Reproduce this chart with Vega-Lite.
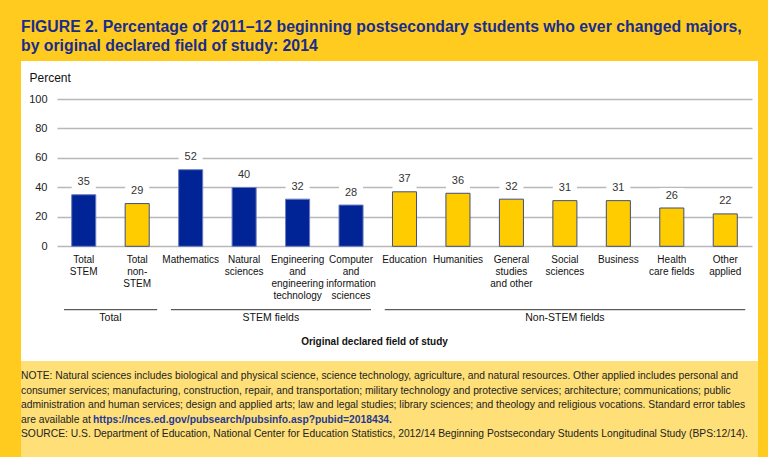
{
  "$schema": "https://vega.github.io/schema/vega-lite/v6.json",
  "background": "#FFCB1F",
  "padding": {"left": 21, "top": 19, "right": 10, "bottom": 0},
  "autosize": {"type": "pad"},
  "spacing": 0,
  "title": {
    "text": ["FIGURE 2. Percentage of 2011–12 beginning postsecondary students who ever changed majors,", "by original declared field of study: 2014"],
    "anchor": "start",
    "frame": "group",
    "font": "Liberation Sans",
    "fontSize": 15.8,
    "fontWeight": "bold",
    "color": "#1a2c8c",
    "lineHeight": 19,
    "offset": 6
  },
  "config": {"view": {"stroke": null}, "font": "Liberation Sans"},
  "datasets": {
    "bars": [
      {"field": "Total\nSTEM", "value": 35, "type": "STEM"},
      {"field": "Total\nnon-\nSTEM", "value": 29, "type": "Non-STEM"},
      {"field": "Mathematics", "value": 52, "type": "STEM"},
      {"field": "Natural\nsciences", "value": 40, "type": "STEM"},
      {"field": "Engineering\nand\nengineering\ntechnology", "value": 32, "type": "STEM"},
      {"field": "Computer\nand\ninformation\nsciences", "value": 28, "type": "STEM"},
      {"field": "Education", "value": 37, "type": "Non-STEM"},
      {"field": "Humanities", "value": 36, "type": "Non-STEM"},
      {"field": "General\nstudies\nand other", "value": 32, "type": "Non-STEM"},
      {"field": "Social\nsciences", "value": 31, "type": "Non-STEM"},
      {"field": "Business", "value": 31, "type": "Non-STEM"},
      {"field": "Health\ncare fields", "value": 26, "type": "Non-STEM"},
      {"field": "Other\napplied", "value": 22, "type": "Non-STEM"}
    ],
    "spans": [
      {"label": "Total", "first": "Total\nSTEM", "last": "Total\nnon-\nSTEM"},
      {"label": "STEM fields", "first": "Mathematics", "last": "Computer\nand\ninformation\nsciences"},
      {"label": "Non-STEM fields", "first": "Education", "last": "Other\napplied"}
    ],
    "notes": [
      {"line": 1, "kind": "plain", "text": "NOTE: Natural sciences includes biological and physical science, science technology, agriculture, and natural resources. Other applied includes personal and"},
      {"line": 2, "kind": "plain", "text": "consumer services; manufacturing, construction, repair, and transportation; military technology and protective services; architecture; communications; public"},
      {"line": 3, "kind": "plain", "text": "administration and human services; design and applied arts; law and legal studies; library sciences; and theology and religious vocations. Standard error tables"},
      {"line": 4, "kind": "plain", "text": "are available at"},
      {"line": 4, "kind": "link", "text": "https://nces.ed.gov/pubsearch/pubsinfo.asp?pubid=2018434."},
      {"line": 5, "kind": "plain", "text": "SOURCE: U.S. Department of Education, National Center for Education Statistics, 2012/14 Beginning Postsecondary Students Longitudinal Study (BPS:12/14)."}
    ]
  },
  "vconcat": [
    {
      "width": 737,
      "height": 300,
      "view": {"fill": "white", "stroke": null},
      "encoding": {
        "x": {
          "field": "field",
          "type": "nominal",
          "sort": null,
          "title": "Original declared field of study",
          "scale": {
            "domain": ["Total\nSTEM", "Total\nnon-\nSTEM", "Mathematics", "Natural\nsciences", "Engineering\nand\nengineering\ntechnology", "Computer\nand\ninformation\nsciences", "Education", "Humanities", "General\nstudies\nand other", "Social\nsciences", "Business", "Health\ncare fields", "Other\napplied"],
            "range": [36, 731],
            "paddingInner": 0.55,
            "paddingOuter": 0.275
          },
          "axis": {
            "orient": "bottom",
            "offset": -114.7,
            "domain": false,
            "ticks": false,
            "grid": false,
            "labelAngle": 0,
            "labelExpr": "split(datum.label, '\\n')",
            "labelFont": "Liberation Sans",
            "labelFontSize": 10,
            "labelLineHeight": 12,
            "labelColor": "#111111",
            "labelPadding": 8,
            "labelBaseline": "top",
            "labelLimit": 200,
            "labelOverlap": false,
            "titleFont": "Liberation Sans",
            "titleFontSize": 10,
            "titleFontWeight": "bold",
            "titleColor": "#111111",
            "titleX": 353,
            "titleY": 97.7,
            "titleAlign": "center",
            "titleBaseline": "alphabetic"
          }
        }
      },
      "layer": [
        {
          "data": {"name": "bars"},
          "mark": {"type": "bar", "fill": "white", "y2Offset": -20},
          "encoding": {
            "y": {
              "field": "value",
              "type": "quantitative",
              "title": "Percent",
              "scale": {"domain": [0, 100], "range": [185.3, 38], "nice": false},
              "axis": {
                "values": [0, 20, 40, 60, 80, 100],
                "offset": -36,
                "domain": false,
                "ticks": false,
                "grid": true,
                "gridColor": "#b8b8b8",
                "gridWidth": 1.3,
                "labelFont": "Liberation Sans",
                "labelFontSize": 11,
                "labelColor": "#222222",
                "labelPadding": 10,
                "titleAngle": 0,
                "titleX": -28,
                "titleY": 20,
                "titleAlign": "left",
                "titleBaseline": "alphabetic",
                "titleFont": "Liberation Sans",
                "titleFontSize": 12,
                "titleFontWeight": "normal",
                "titleColor": "#111111"
              }
            },
            "y2": {"field": "value"}
          }
        },
        {
          "data": {"name": "bars"},
          "mark": {"type": "bar", "strokeWidth": 1},
          "encoding": {
            "y": {"field": "value", "type": "quantitative", "title": "Percent"},
            "fill": {"field": "type", "type": "nominal", "scale": {"domain": ["STEM", "Non-STEM"], "range": ["#002395", "#FFCC00"]}, "legend": null},
            "stroke": {"field": "type", "type": "nominal", "scale": {"domain": ["STEM", "Non-STEM"], "range": ["#6a7cc0", "#3f4f80"]}, "legend": null}
          }
        },
        {
          "data": {"name": "bars"},
          "mark": {"type": "text", "font": "Liberation Sans", "fontSize": 11, "color": "#333333", "baseline": "alphabetic", "dy": -9.5},
          "encoding": {
            "y": {"field": "value", "type": "quantitative", "title": "Percent"},
            "text": {"field": "value", "type": "quantitative"}
          }
        },
        {
          "data": {"name": "spans"},
          "mark": {"type": "rule", "color": "#333333", "strokeWidth": 1, "yOffset": 63.4, "y2Offset": 63.4},
          "encoding": {
            "x": {"field": "first", "type": "nominal", "bandPosition": -0.32, "title": "Original declared field of study"},
            "x2": {"field": "last", "bandPosition": 1.33},
            "y": {"datum": 0, "type": "quantitative"},
            "y2": {"datum": 0}
          }
        },
        {
          "data": {"name": "spans"},
          "transform": [{"filter": "datum.label == 'Total'"}],
          "mark": {"type": "text", "font": "Liberation Sans", "fontSize": 10.5, "color": "#111111", "baseline": "alphabetic", "dy": 74.7},
          "encoding": {
            "x": {"datum": "Total\nSTEM", "type": "nominal", "bandPosition": 1.611},
            "y": {"datum": 0, "type": "quantitative"},
            "text": {"field": "label"}
          }
        },
        {
          "data": {"name": "spans"},
          "transform": [{"filter": "datum.label == 'STEM fields'"}],
          "mark": {"type": "text", "font": "Liberation Sans", "fontSize": 10.5, "color": "#111111", "baseline": "alphabetic", "dy": 74.7},
          "encoding": {
            "x": {"datum": "Natural\nsciences", "type": "nominal", "bandPosition": 1.611},
            "y": {"datum": 0, "type": "quantitative"},
            "text": {"field": "label"}
          }
        },
        {
          "data": {"name": "spans"},
          "transform": [{"filter": "datum.label == 'Non-STEM fields'"}],
          "mark": {"type": "text", "font": "Liberation Sans", "fontSize": 10.5, "color": "#111111", "baseline": "alphabetic", "dy": 74.7},
          "encoding": {
            "x": {"datum": "Social\nsciences", "type": "nominal", "bandPosition": 0.5},
            "y": {"datum": 0, "type": "quantitative"},
            "text": {"field": "label"}
          }
        }
      ]
    },
    {
      "width": 737,
      "height": 96,
      "view": {"fill": "#FFDF78", "stroke": null},
      "data": {"name": "notes"},
      "encoding": {
        "y": {"field": "line", "type": "ordinal", "scale": {"type": "point", "range": [18, 76.4], "padding": 0}, "axis": null},
        "x": {"datum": 0, "type": "quantitative", "scale": {"domain": [0, 1]}, "axis": null}
      },
      "layer": [
        {
          "transform": [{"filter": "datum.kind == 'plain'"}],
          "mark": {"type": "text", "align": "left", "baseline": "alphabetic", "font": "Liberation Sans", "fontSize": 10.3, "color": "#222222"},
          "encoding": {"text": {"field": "text"}}
        },
        {
          "transform": [{"filter": "datum.kind == 'link'"}],
          "mark": {"type": "text", "align": "left", "baseline": "alphabetic", "font": "Liberation Sans", "fontSize": 10.3, "fontWeight": "bold", "color": "#1f3a93", "dx": 72},
          "encoding": {"text": {"field": "text"}}
        }
      ]
    }
  ]
}
